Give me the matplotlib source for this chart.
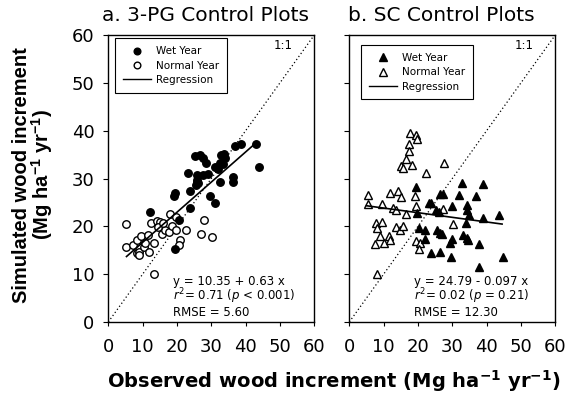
import numpy as np
import matplotlib
matplotlib.use("Agg")
import matplotlib.pyplot as plt
from matplotlib.lines import Line2D

plt.rcParams['font.family'] = ['DejaVu Sans']
plt.rcParams['mathtext.fontset'] = 'dejavusans'
plt.rcParams['mathtext.rm'] = 'Liberation Sans'
plt.rcParams['mathtext.it'] = 'Liberation Sans:italic'
plt.rcParams['mathtext.bf'] = 'Liberation Sans:bold'

# panel a: 3-PG control plots
pg_wet_x = [43.1, 43.8, 38.7, 36.8, 33.8, 32.9, 25.2, 26.7, 27.6, 28.6, 31.1, 32.5,
            33.5, 32.0, 29.1, 27.6, 25.7, 23.2, 25.7, 25.4, 26.2, 23.7, 19.5, 19.2,
            32.5, 36.4, 36.4, 29.6, 31.2, 23.7, 12.1, 20.6, 19.4, 25.7, 34.0]
pg_wet_y = [37.2, 32.5, 37.2, 36.8, 35.1, 34.9, 34.7, 34.9, 34.2, 33.3, 32.5, 33.2,
            33.0, 31.9, 30.9, 30.7, 30.7, 31.1, 29.7, 28.6, 29.0, 27.3, 27.0, 26.4,
            29.3, 30.4, 29.2, 26.3, 24.9, 23.9, 23.0, 21.3, 15.2, 29.2, 34.2]
pg_norm_x = [5.3, 5.3, 7.3, 8.3, 9.5, 8.3, 8.8, 10.3, 11.5, 11.8, 13.2, 12.4, 14.2,
             15.2, 15.7, 16.5, 17.6, 17.9, 18.6, 19.6, 19.6, 20.8, 20.6, 22.5, 26.9,
             27.9, 30.1, 13.4, 10.6, 9.0, 14.5, 16.0]
pg_norm_y = [20.5, 15.6, 16.1, 17.1, 18.0, 14.5, 14.6, 15.6, 18.2, 14.7, 16.6, 20.6,
             21.2, 21.0, 18.5, 19.3, 18.9, 22.6, 20.1, 22.0, 19.3, 17.1, 16.1, 19.3,
             18.5, 21.3, 17.8, 10.1, 16.6, 14.0, 19.8, 20.8]

# panel b: SC control plots
sc_wet_x = [19.4, 19.8, 20.3, 22.1, 22.0, 23.3, 23.7, 23.9, 25.2, 25.5, 26.2, 26.4,
            26.4, 26.5, 27.0, 27.4, 29.4, 29.7, 29.9, 30.0, 31.9, 32.7, 33.2, 33.9,
            34.2, 34.4, 34.4, 34.7, 34.9, 37.0, 37.9, 37.9, 38.8, 39.0, 43.6, 44.9]
sc_wet_y = [28.3, 22.7, 19.6, 19.2, 17.3, 24.9, 24.9, 14.5, 23.4, 19.2, 22.9, 26.7,
            14.7, 18.7, 18.4, 26.7, 16.6, 13.5, 17.3, 24.3, 26.5, 29.1, 18.2, 20.8,
            17.5, 24.5, 23.4, 17.1, 22.4, 26.3, 16.3, 11.4, 21.7, 28.8, 22.4, 13.5]
sc_norm_x = [5.5, 5.5, 9.4, 12.0, 14.3, 15.2, 12.6, 13.5, 16.5, 19.1, 19.4, 17.7,
             19.4, 19.8, 17.5, 17.5, 16.5, 15.0, 15.6, 18.2, 22.2, 27.7, 27.2, 7.8,
             9.4, 8.1, 8.9, 7.4, 10.1, 11.7, 12.0, 13.6, 14.8, 15.7, 19.4, 20.6,
             20.4, 8.0, 30.1]
sc_norm_y = [26.5, 24.6, 24.6, 26.9, 27.4, 26.2, 23.9, 23.4, 22.5, 26.3, 24.3, 39.5,
             39.1, 38.2, 37.2, 35.8, 34.0, 32.6, 32.1, 32.8, 31.2, 33.3, 23.7, 20.6,
             21.0, 19.6, 17.9, 16.3, 16.6, 17.9, 17.2, 19.9, 19.3, 20.0, 17.0, 16.6,
             15.2, 10.0, 20.5]

ticks = [0, 10, 20, 30, 40, 50, 60]
W, H = 566, 400

fig = plt.figure(figsize=(W / 100, H / 100), dpi=100)
axa = fig.add_axes([108.3 / W, 1 - 322 / H, 206 / W, 287 / H])
axb = fig.add_axes([349.3 / W, 1 - 322 / H, 206 / W, 287 / H])

panels = [
    (axa, pg_wet_x, pg_wet_y, pg_norm_x, pg_norm_y, 'o', 10.35, 0.63, 5.3, 43.0,
     ['y = 10.35 + 0.63 x', '$\\mathit{r}^2$= 0.71 ($\\mathit{p}$ < 0.001)', 'RMSE = 5.60'],
     (0.033, 0.988)),
    (axb, sc_wet_x, sc_wet_y, sc_norm_x, sc_norm_y, '^', 24.79, -0.097, 5.0, 44.5,
     ['y = 24.79 - 0.097 x', '$\\mathit{r}^2$= 0.02 ($\\mathit{p}$ = $\\mathit{0.21}$)', 'RMSE = 12.30'],
     (0.057, 0.965)),
]

for ax, wx, wy, nx, ny, mk, b0, b1, x0, x1, eq, legpos in panels:
    ax.plot([0, 60], [0, 60], color='black', linestyle=(0, (1, 2)), linewidth=0.9, zorder=1)
    ms = 5.4 if mk == 'o' else 6.2
    ax.plot(nx, ny, linestyle='none', marker=mk, markersize=ms, markerfacecolor='white',
            markeredgecolor='black', markeredgewidth=1.0, zorder=3)
    ax.plot(wx, wy, linestyle='none', marker=mk, markersize=ms, markerfacecolor='black',
            markeredgecolor='black', zorder=3)
    xr = np.array([x0, x1])
    ax.plot(xr, b0 + b1 * xr, color='black', linewidth=1.2, zorder=4)
    ax.set_xlim(0, 60)
    ax.set_ylim(0, 60)
    ax.set_xticks(ticks)
    ax.set_yticks(ticks)
    ax.tick_params(direction='out', width=0.8, labelsize=13, top=False, right=False)
    ax.tick_params(axis='x', length=3, pad=8.5)
    ax.tick_params(axis='y', length=3.5, pad=6.5)
    for s in ax.spines.values():
        s.set_linewidth(1.0)
    ax.text(53.6, 57.9, '1:1', ha='right', va='center', fontsize=8.5)
    for i, line in enumerate(eq):
        ax.text(18.7, 7.7 - 3.25 * i, line, ha='left', va='baseline', fontsize=8.5)

    handles = [
        Line2D([], [], linestyle='none', marker=mk, markersize=ms - 0.6,
               markerfacecolor='black', markeredgecolor='black'),
        Line2D([], [], linestyle='none', marker=mk, markersize=ms - 0.6,
               markerfacecolor='white', markeredgecolor='black'),
        Line2D([], [], color='black', linewidth=1.0),
    ]
    leg = ax.legend(handles, ['Wet Year', 'Normal Year', 'Regression'],
                    loc='upper left', bbox_to_anchor=legpos, fontsize=7.5,
                    frameon=True, fancybox=False, edgecolor='black', framealpha=1,
                    handlelength=2.7, labelspacing=0.42, borderpad=0.75,
                    handletextpad=0.5, borderaxespad=0)
    leg.get_frame().set_linewidth(0.8)

axb.tick_params(labelleft=False)

fig.text(102 / W, 1 - 21 / H, 'a. 3-PG Control Plots', ha='left', va='baseline', fontsize=14.5)
fig.text(348 / W, 1 - 21 / H, 'b. SC Control Plots', ha='left', va='baseline', fontsize=14.5)

fig.text(22 / W, 1 - 175 / H, 'Simulated wood increment', rotation=90,
         ha='center', va='center', fontsize=14.5, fontweight='bold',
         family='Liberation Sans')
fig.text(42 / W, 1 - 175 / H, '(Mg ha$^{\\mathbf{-1}}$ yr$^{\\mathbf{-1}}$)', rotation=90,
         ha='center', va='center', fontsize=14.5, fontweight='bold',
         family='Liberation Sans', math_fontfamily='custom')
fig.text(334 / W, 1 - 381 / H, 'Observed wood increment (Mg ha$^{\\mathbf{-1}}$ yr$^{\\mathbf{-1}}$)',
         ha='center', va='center', fontsize=14, fontweight='bold')

fig.savefig('out.png', dpi=100)
